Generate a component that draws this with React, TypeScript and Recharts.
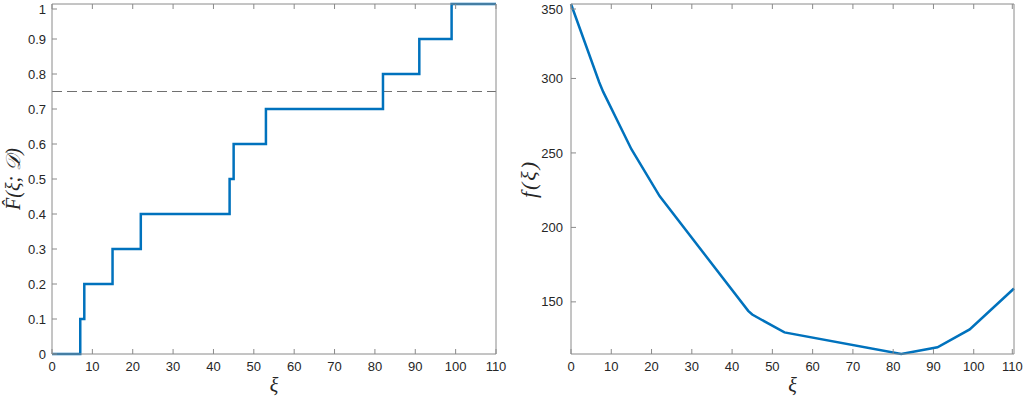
import { LineChart, Line, XAxis, YAxis, ReferenceLine } from "recharts";

// sample points of the empirical CDF (left) and the cost curve (right)
const sampleX = [0, 7, 8, 15, 22, 44, 45, 53, 82, 91, 99, 110];
const ecdfValues = [0, 0.1, 0.2, 0.3, 0.4, 0.5, 0.6, 0.7, 0.8, 0.9, 1, 1];
const costValues = [350, 297.5, 291, 252.5, 221, 144, 141.5, 129.5, 115, 119.5, 131.5, 159];

const xTicks = [0, 10, 20, 30, 40, 50, 60, 70, 80, 90, 100, 110];
const ecdfTicks = [0, 0.1, 0.2, 0.3, 0.4, 0.5, 0.6, 0.7, 0.8, 0.9, 1];
const costTicks = [150, 200, 250, 300, 350];
const quantileLevel = 0.75;

const ecdfData = sampleX.map((x, i) => ({ x, y: ecdfValues[i] }));
const costData = sampleX.map((x, i) => ({ x, y: costValues[i] }));

const BLUE = "#0072BD";
const AXIS = "#8a8a8a";
const TEXT = "#262626";
const TICK_LEN = 5;
const X_GAP = 8;
const Y_GAP = 6;
const SANS = "'Liberation Sans', Arial, Helvetica, sans-serif";
const SERIF = "'Liberation Serif', 'DejaVu Serif', 'Times New Roman', serif";

function BottomTick(props: any) {
  const { x, y, payload } = props;
  const axisY = y - X_GAP;
  return (
    <g>
      <line x1={x} y1={axisY} x2={x} y2={axisY - TICK_LEN} stroke={AXIS} />
      <text x={x} y={y} dy="0.71em" textAnchor="middle" fill={TEXT} fontSize={13} fontFamily={SANS}>
        {payload.value}
      </text>
    </g>
  );
}

function LeftTick(props: any) {
  const { x, y, payload, gap } = props;
  const axisX = x + gap;
  return (
    <g>
      <line x1={axisX} y1={y} x2={axisX + TICK_LEN} y2={y} stroke={AXIS} />
      <text x={x} y={y} dy="0.355em" textAnchor="end" fill={TEXT} fontSize={13} fontFamily={SANS}>
        {payload.value}
      </text>
    </g>
  );
}

function TopTick(props: any) {
  const { x, y } = props;
  return <line x1={x} y1={y} x2={x} y2={y + TICK_LEN} stroke={AXIS} />;
}

function RightTick(props: any) {
  const { x, y } = props;
  return <line x1={x} y1={y} x2={x - TICK_LEN} y2={y} stroke={AXIS} />;
}

const labelStyle = { fontFamily: SERIF, fontStyle: "italic", fontSize: 20, fill: TEXT, textAnchor: "middle" } as any;
const fLabelStyle = { ...labelStyle, fontSize: 22, letterSpacing: 2 };

export default function App() {
  return (
    <div style={{ position: "absolute", left: 0, top: 0, width: 1024, height: 396, display: "flex", background: "#fff" }}>
      <LineChart width={512} height={396} data={ecdfData} margin={{ top: 3, right: 15, bottom: 0, left: 0 }}>
        <XAxis
          dataKey="x"
          type="number"
          domain={[0, 110]}
          ticks={xTicks}
          height={42}
          stroke={AXIS}
          tickLine={false}
          tickSize={0}
          tickMargin={X_GAP}
          tick={<BottomTick />}
          label={{ value: "ξ", position: "insideBottom", offset: 4, style: labelStyle }}
        />
        <XAxis xAxisId="top" orientation="top" dataKey="x" type="number" domain={[0, 110]} ticks={xTicks}
          height={1} stroke={AXIS} tickLine={false} tickSize={0} tickMargin={0} tick={<TopTick />} />
        <YAxis
          type="number"
          domain={[0, 1]}
          ticks={ecdfTicks}
          width={52}
          stroke={AXIS}
          tickLine={false}
          tickSize={0}
          tickMargin={Y_GAP}
          tick={<LeftTick gap={Y_GAP} />}
          label={{ value: "F̂(ξ; 𝒟)", angle: -90, position: "insideLeft", offset: 13, style: labelStyle }}
        />
        <YAxis yAxisId="right" orientation="right" type="number" domain={[0, 1]} ticks={ecdfTicks}
          width={1} stroke={AXIS} tickLine={false} tickSize={0} tickMargin={0} tick={<RightTick />} />
        <ReferenceLine y={quantileLevel} stroke="#707070" strokeDasharray="10 5" strokeWidth={1} />
        <Line type="stepAfter" dataKey="y" stroke={BLUE} strokeWidth={2.5} dot={false} isAnimationActive={false} />
      </LineChart>

      <LineChart width={512} height={396} data={costData} margin={{ top: 3, right: 9, bottom: 0, left: 0 }}>
        <XAxis
          dataKey="x"
          type="number"
          domain={[0, 110]}
          ticks={xTicks}
          height={42}
          stroke={AXIS}
          tickLine={false}
          tickSize={0}
          tickMargin={X_GAP}
          tick={<BottomTick />}
          label={{ value: "ξ", position: "insideBottom", offset: 4, style: labelStyle }}
        />
        <XAxis xAxisId="top" orientation="top" dataKey="x" type="number" domain={[0, 110]} ticks={xTicks}
          height={1} stroke={AXIS} tickLine={false} tickSize={0} tickMargin={0} tick={<TopTick />} />
        <YAxis
          type="number"
          domain={[115, 350]}
          ticks={costTicks}
          width={59}
          stroke={AXIS}
          tickLine={false}
          tickSize={0}
          tickMargin={8}
          tick={<LeftTick gap={8} />}
          label={{ value: "f(ξ)", angle: -90, position: "insideLeft", offset: 16, style: fLabelStyle }}
        />
        <YAxis yAxisId="right" orientation="right" type="number" domain={[115, 350]} ticks={costTicks}
          width={1} stroke={AXIS} tickLine={false} tickSize={0} tickMargin={0} tick={<RightTick />} />
        <Line type="linear" dataKey="y" stroke={BLUE} strokeWidth={2.5} dot={false} isAnimationActive={false} />
      </LineChart>
    </div>
  );
}
